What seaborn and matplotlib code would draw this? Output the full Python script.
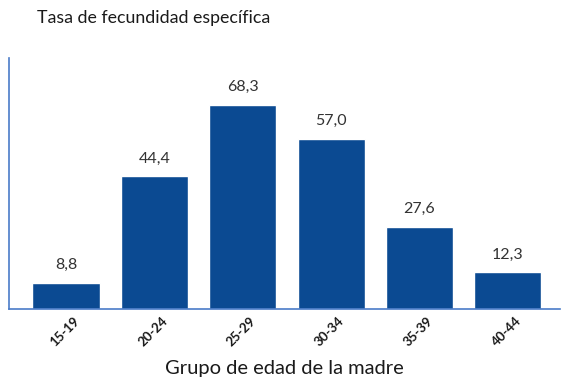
import matplotlib
matplotlib.use("Agg")
import matplotlib.pyplot as plt
import matplotlib.transforms as mtransforms
import seaborn as sns
import pandas as pd

grupos = ["15-19", "20-24", "25-29", "30-34", "35-39", "40-44"]
tasas = [8.8, 44.4, 68.3, 57.0, 27.6, 12.3]
etiquetas = ["8,8", "44,4", "68,3", "57,0", "27,6", "12,3"]

sns.set_theme(style="white")
plt.rcParams["font.family"] = ["Lato", "DejaVu Sans"]

df = pd.DataFrame({"grupo": grupos, "tasa": tasas})

fig = plt.figure(figsize=(5.71, 3.81), dpi=100)
ax = fig.add_axes([9 / 571, 1 - 309 / 381, 551 / 571, 251 / 381])

sns.barplot(data=df, x="grupo", y="tasa", color="#0B4A92", saturation=1,
            width=0.76, ax=ax)

for i, (v, t) in enumerate(zip(tasas, etiquetas)):
    ax.text(i, v + 3.6, t, ha="center", va="bottom", fontsize=11.5, color="#333333")

ax.set_ylim(0, 84)
ax.set_xlim(-0.645, 5.59)
ax.set_yticks([])
ax.set_ylabel("")
ax.set_xlabel("Grupo de edad de la madre", fontsize=14.5, color="#1a1a1a", labelpad=8)
ax.tick_params(axis="x", length=0, pad=4, labelsize=9.5, colors="#1a1a1a")
shift = mtransforms.ScaledTranslation(7 / 100, 0, fig.dpi_scale_trans)
for lbl in ax.get_xticklabels():
    lbl.set_rotation(45)
    lbl.set_ha("right")
    lbl.set_rotation_mode("anchor")
    lbl.set_fontweight("bold")
    lbl.set_transform(lbl.get_transform() + shift)
for s in ["top", "right"]:
    ax.spines[s].set_visible(False)
for s in ["left", "bottom"]:
    ax.spines[s].set_color("#4A7CC8")
    ax.spines[s].set_linewidth(1.2)

fig.text(37 / 571, 1 - 18 / 381, "Tasa de fecundidad específica", fontsize=12.8,
         color="#1a1a1a", va="center", ha="left")

fig.savefig("out.png", dpi=100)
